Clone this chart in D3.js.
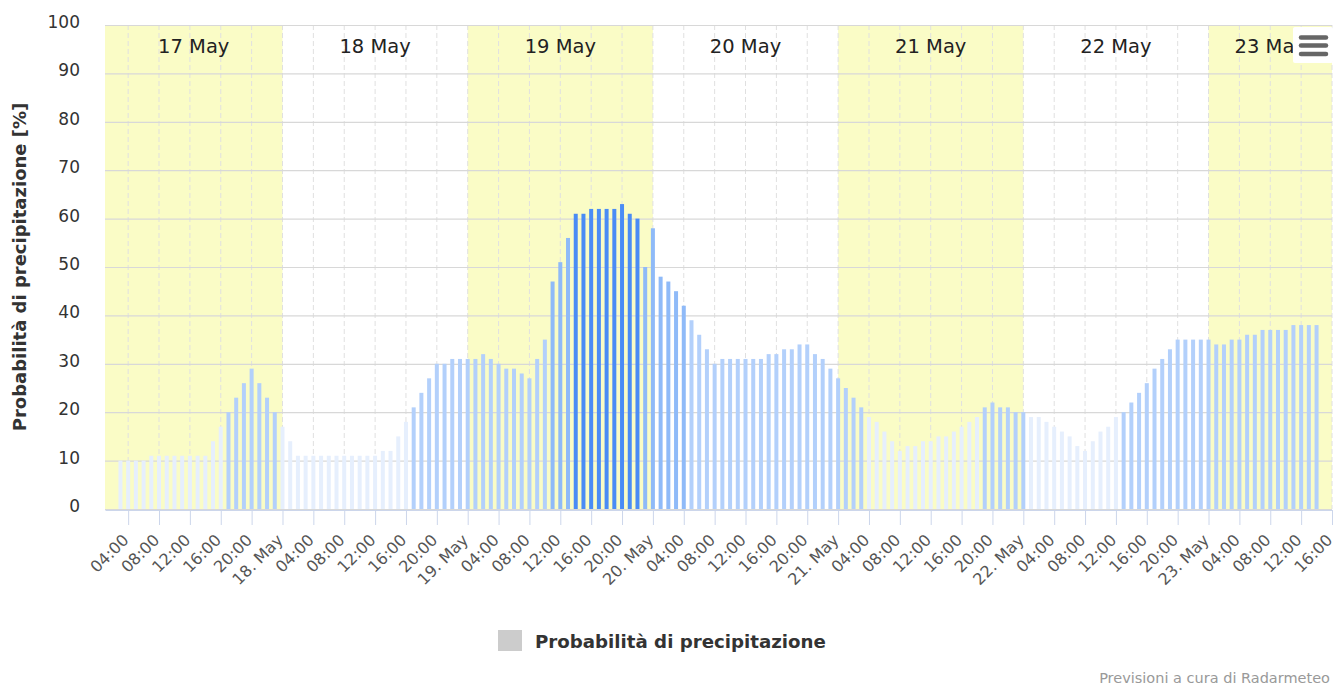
<!DOCTYPE html>
<html>
<head>
<meta charset="utf-8">
<script src="https://cdn.jsdelivr.net/npm/d3@7"></script>
<style>
  body { margin: 0; background: #fff; }
</style>
</head>
<body>
<div id="chart"></div>
<script>
// ------------------------------------------------------------
// Data: hourly probability of precipitation [%]
// first value is 17 May 03:00, last is 23 May 14:00
// ------------------------------------------------------------
var may17 = [10, 10, 10, 10, 11, 11, 11, 11, 11, 11, 11, 11, 14, 17, 20, 23, 26, 29, 26, 23, 20];
var may18 = [17, 14, 11, 11, 11, 11, 11, 11, 11, 11, 11, 11, 11, 12, 12, 15, 18, 21, 24, 27, 30, 30, 31, 31];
var may19 = [31, 31, 32, 31, 30, 29, 29, 28, 27, 31, 35, 47, 51, 56, 61, 61, 62, 62, 62, 62, 63, 61, 60, 50];
var may20 = [58, 48, 47, 45, 42, 39, 36, 33, 30, 31, 31, 31, 31, 31, 31, 32, 32, 33, 33, 34, 34, 32, 31, 29];
var may21 = [27, 25, 23, 21, 19, 18, 16, 14, 12, 13, 13, 14, 14, 15, 15, 16, 17, 18, 19, 21, 22, 21, 21, 20];
var may22 = [20, 19, 19, 18, 17, 16, 15, 13, 12, 14, 16, 17, 19, 20, 22, 24, 26, 29, 31, 33, 35, 35, 35, 35];
var may23 = [35, 34, 34, 35, 35, 36, 36, 37, 37, 37, 37, 38, 38, 38, 38];

var dayLabels = ["17 May", "18 May", "19 May", "20 May", "21 May", "22 May", "23 May"];
var yTickValues = [0, 10, 20, 30, 40, 50, 60, 70, 80, 90, 100];

var seriesName = "Probabilità di precipitazione";
var yAxisTitle = "Probabilità di precipitazione [%]";
var creditText = "Previsioni a cura di Radarmeteo";

var firstHour = Date.UTC(2023, 4, 17, 3);
var axisStart = new Date(Date.UTC(2023, 4, 17, 1));
var axisEnd = new Date(Date.UTC(2023, 4, 23, 16));

var probabilities = may17.concat(may18, may19, may20, may21, may22, may23);
var hourlyData = probabilities.map(function (p, i) {
    return { time: new Date(firstHour + i * 3600000), value: p };
});

var chartFont = "DejaVu Sans, sans-serif";

// ------------------------------------------------------------
// Chart size and margins
// ------------------------------------------------------------
var svgWidth = 1336;
var svgHeight = 687;

var margin = { top: 25, right: 4, bottom: 178, left: 105 };

var chartWidth = svgWidth - margin.left - margin.right;
var chartHeight = svgHeight - margin.top - margin.bottom;

var svg = d3.select("#chart")
    .append("svg")
    .attr("width", svgWidth)
    .attr("height", svgHeight);

svg.append("rect")
    .attr("width", svgWidth)
    .attr("height", svgHeight)
    .attr("fill", "#ffffff");

var chartGroup = svg.append("g")
    .attr("transform", `translate(${margin.left}, ${margin.top})`);

// ------------------------------------------------------------
// Scales
// ------------------------------------------------------------
var xTimeScale = d3.scaleUtc()
    .domain([axisStart, axisEnd])
    .range([0, chartWidth]);

var yLinearScale = d3.scaleLinear()
    .domain([0, 100])
    .range([chartHeight, 0]);

// colour of a bar depends on its value
function barColor(v) {
    if (v >= 60) return "#4a8cf5";
    if (v >= 40) return "#8fbaf8";
    if (v >= 20) return "#b3d0fb";
    return "#e6effd";
}

// ------------------------------------------------------------
// Day bands (alternating yellow / white) with day names
// ------------------------------------------------------------
var days = d3.utcDay.range(d3.utcDay.floor(axisStart), axisEnd).map(function (d, i) {
    var start = d < axisStart ? axisStart : d;
    var next = d3.utcDay.offset(d, 1);
    var end = next > axisEnd ? axisEnd : next;
    return { start: start, end: end, label: dayLabels[i], index: i };
});

chartGroup.selectAll(".band")
    .data(days.filter(function (d) { return d.index % 2 === 0; }))
    .enter()
    .append("rect")
    .attr("class", "band")
    .attr("x", function (d) { return xTimeScale(d.start); })
    .attr("y", 0)
    .attr("width", function (d) { return xTimeScale(d.end) - xTimeScale(d.start); })
    .attr("height", chartHeight)
    .attr("fill", "#fafcc6");

// ------------------------------------------------------------
// Grid lines
// ------------------------------------------------------------
var xTicks = xTimeScale.ticks(d3.utcHour.every(4));

chartGroup.append("g")
    .selectAll("line")
    .data(xTicks)
    .enter()
    .append("line")
    .attr("x1", function (d) { return xTimeScale(d); })
    .attr("x2", function (d) { return xTimeScale(d); })
    .attr("y1", 0)
    .attr("y2", chartHeight)
    .attr("stroke", "#e0e0e0")
    .attr("stroke-dasharray", "5,3");

chartGroup.append("g")
    .selectAll("line")
    .data(yTickValues)
    .enter()
    .append("line")
    .attr("x1", 0)
    .attr("x2", chartWidth)
    .attr("y1", function (d) { return yLinearScale(d) + 0.5; })
    .attr("y2", function (d) { return yLinearScale(d) + 0.5; })
    .attr("stroke", "#d8d8d8")
    .attr("stroke-width", 1.2);

// ------------------------------------------------------------
// Bars
// ------------------------------------------------------------
var barWidth = 4;

chartGroup.append("g")
    .selectAll("rect")
    .data(hourlyData)
    .enter()
    .append("rect")
    .attr("x", function (d) { return xTimeScale(d.time) - barWidth / 2; })
    .attr("y", function (d) { return yLinearScale(d.value); })
    .attr("width", barWidth)
    .attr("height", function (d) { return chartHeight - yLinearScale(d.value); })
    .attr("fill", function (d) { return barColor(d.value); });

// day names on top of the bands
chartGroup.selectAll(".dayLabel")
    .data(days)
    .enter()
    .append("text")
    .attr("class", "dayLabel")
    .attr("x", function (d) { return (xTimeScale(d.start) + xTimeScale(d.end)) / 2; })
    .attr("y", 28)
    .attr("text-anchor", "middle")
    .style("font-family", chartFont)
    .style("font-size", "19.5px")
    .attr("fill", "#222")
    .text(function (d) { return d.label; });

// ------------------------------------------------------------
// Axes
// ------------------------------------------------------------
var formatHour = d3.utcFormat("%H:%M");
var formatDay = d3.utcFormat("%-d. %b");

var bottomAxis = d3.axisBottom(xTimeScale)
    .tickValues(xTicks)
    .tickSize(15)
    .tickSizeOuter(0)
    .tickFormat(function (d) {
        return d.getUTCHours() === 0 ? formatDay(d) : formatHour(d);
    });

var xAxisGroup = chartGroup.append("g")
    .attr("transform", `translate(0, ${chartHeight + 1})`)
    .call(bottomAxis);

xAxisGroup.select(".domain").attr("stroke", "#ccd6eb");
xAxisGroup.selectAll(".tick line").attr("stroke", "#ccd6eb");
xAxisGroup.selectAll(".tick text")
    .style("font-family", chartFont)
    .style("font-size", "16px")
    .attr("fill", "#555")
    .attr("text-anchor", "end")
    .attr("x", 0)
    .attr("y", 0)
    .attr("dy", 0)
    .attr("transform", "translate(1, 31) rotate(-45)");

var leftAxis = d3.axisLeft(yLinearScale)
    .tickValues(yTickValues)
    .tickSize(0);

var yAxisGroup = chartGroup.append("g").call(leftAxis);
yAxisGroup.select(".domain").remove();
yAxisGroup.selectAll(".tick text")
    .style("font-family", chartFont)
    .style("font-size", "17px")
    .attr("fill", "#333")
    .attr("x", -25)
    .attr("y", -3);

// y axis title
svg.append("text")
    .attr("transform", `translate(20, ${margin.top + chartHeight / 2}) rotate(-90)`)
    .attr("text-anchor", "middle")
    .attr("dy", "0.35em")
    .style("font-family", chartFont)
    .style("font-weight", "bold")
    .style("font-size", "18px")
    .attr("fill", "#333")
    .text(yAxisTitle);

// ------------------------------------------------------------
// Legend and credit
// ------------------------------------------------------------
var legend = svg.append("g")
    .attr("transform", "translate(498, 630)");

legend.append("rect")
    .attr("width", 24)
    .attr("height", 21)
    .attr("fill", "#cccccc");

legend.append("text")
    .attr("x", 37)
    .attr("y", 17.5)
    .style("font-family", chartFont)
    .style("font-weight", "bold")
    .style("font-size", "18.2px")
    .attr("fill", "#333")
    .text(seriesName);

svg.append("text")
    .attr("x", 1330)
    .attr("y", 683)
    .attr("text-anchor", "end")
    .style("font-family", chartFont)
    .style("font-size", "14.5px")
    .attr("fill", "#999")
    .text(creditText);

// ------------------------------------------------------------
// Export menu button (top right)
// ------------------------------------------------------------
var menu = svg.append("g")
    .attr("transform", "translate(1293, 27)");

menu.append("rect")
    .attr("width", 40)
    .attr("height", 36)
    .attr("rx", 2)
    .attr("fill", "#ffffff");

menu.selectAll("line")
    .data([10.5, 18.5, 27])
    .enter()
    .append("line")
    .attr("x1", 8)
    .attr("x2", 33)
    .attr("y1", function (d) { return d; })
    .attr("y2", function (d) { return d; })
    .attr("stroke", "#666")
    .attr("stroke-width", 4.5)
    .attr("stroke-linecap", "round");
</script>
</body>
</html>
